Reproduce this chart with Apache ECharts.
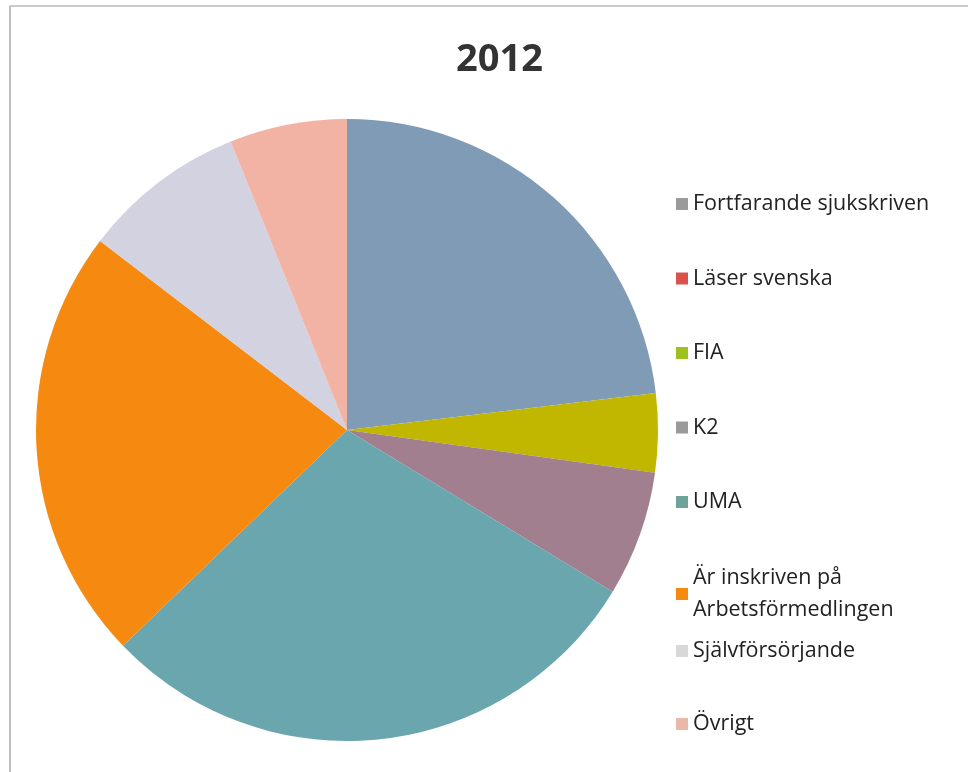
<!DOCTYPE html>
<html>
<head>
<meta charset="utf-8">
<script src="https://cdn.jsdelivr.net/npm/echarts@6/dist/echarts.min.js"></script>
<style>
html,body{margin:0;padding:0;background:#fff;}
#c{width:977px;height:772px;}
</style>
</head>
<body>
<div id="c"></div>
<script>
const title = '2012';
const categories = ['Fortfarande sjukskriven','Läser svenska','FIA','K2','UMA','Är inskriven på Arbetsförmedlingen','Självförsörjande','Övrigt'];
const values = [23.1, 0, 4.1, 6.5, 29.1, 22.6, 8.5, 6.1];
const sliceColors = ['#7f9bb6','#d9534a','#c2b700','#a17f8f','#6aa6ae','#f68a10','#d2d2e0','#f2b2a4'];
const legendColors = ['#9a9a9a','#d9534a','#9fc11f','#9a9a9a','#6fa39a','#f68a10','#d8d8d8','#e8b8a8'];

const chart = echarts.init(document.getElementById('c'), null, {renderer:'canvas'});
const fontFam = '"Open Sans", "Noto Sans", sans-serif';
function legendData(idx){ return idx.map(i => ({name: categories[i], itemStyle:{color: legendColors[i]}})); }
const legendBase = {
  orient:'vertical', left:671, icon:'rect', itemWidth:12, itemHeight:12,
  selectedMode:false,
  textStyle:{fontFamily:fontFam, fontSize:21.5, color:'#222222', lineHeight:26}
};
chart.setOption({
  animation:false,
  backgroundColor:'#ffffff',
  title:{text:title, left:451, top:36,
    textStyle:{fontFamily:fontFam, fontSize:38, fontWeight:'bold', color:'#333333'}},
  legend:[
    Object.assign({}, legendBase, {top:186, itemGap:48.5, data:legendData([0,1,2,3,4])}),
    Object.assign({}, legendBase, {top:557, itemGap:10, data:legendData([5]),
      formatter: n => n.replace(' på ', ' på\n'),
      textStyle:{fontFamily:fontFam, fontSize:21.5, color:'#222222', lineHeight:32}}),
    Object.assign({}, legendBase, {top:633, itemGap:47, data:legendData([6,7])})
  ],
  graphic:[
    {type:'line', shape:{x1:10,y1:6,x2:968,y2:6}, style:{stroke:'#b8b8b8', lineWidth:1.5}},
    {type:'line', shape:{x1:10,y1:6,x2:10,y2:772}, style:{stroke:'#a8a8a8', lineWidth:1.5}}
  ],
  series:[{
    type:'pie',
    center:[347,430],
    radius:[0,311],
    startAngle:90,
    clockwise:true,
    label:{show:false},
    labelLine:{show:false},
    emphasis:{disabled:true},
    itemStyle:{borderWidth:0},
    data: categories.map((c,i)=>({name:c, value:values[i], itemStyle:{color:sliceColors[i]}}))
  }]
});
</script>
</body>
</html>
